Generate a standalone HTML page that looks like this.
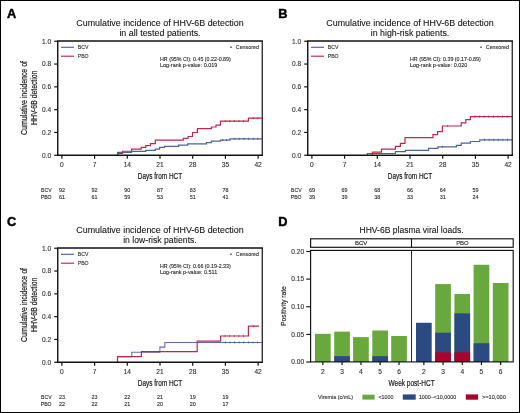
<!DOCTYPE html>
<html><head><meta charset="utf-8"><style>
html,body{margin:0;padding:0;background:#fff;}
svg{display:block;will-change:transform;}
text{font-family:"Liberation Sans", sans-serif;}
</style></head><body>
<svg width="520" height="413" viewBox="0 0 520 413">
<rect x="0" y="0" width="520" height="413" fill="#fff"/>
<text x="7.0" y="17.8" font-size="12.8" fill="#000" font-weight="bold" stroke="#000" stroke-width="0.45">A</text>
<text x="160" y="25.6" font-size="9.3" fill="#111" text-anchor="middle" textLength="167.4" lengthAdjust="spacingAndGlyphs" stroke="#111" stroke-width="0.08">Cumulative incidence of HHV-6B detection</text>
<text x="160" y="35.6" font-size="9.3" fill="#111" text-anchor="middle" textLength="81.2" lengthAdjust="spacingAndGlyphs" stroke="#111" stroke-width="0.08">in all tested patients.</text>
<line x1="54.2" y1="155.25" x2="57.75" y2="155.25" stroke="#111" stroke-width="1.2"/>
<text x="51.2" y="157.55" font-size="6.6" fill="#333" text-anchor="end" stroke="#333" stroke-width="0.12">0.0</text>
<line x1="54.2" y1="132.45" x2="57.75" y2="132.45" stroke="#111" stroke-width="1.2"/>
<text x="51.2" y="134.75" font-size="6.6" fill="#333" text-anchor="end" stroke="#333" stroke-width="0.12">0.2</text>
<line x1="54.2" y1="109.65" x2="57.75" y2="109.65" stroke="#111" stroke-width="1.2"/>
<text x="51.2" y="111.95" font-size="6.6" fill="#333" text-anchor="end" stroke="#333" stroke-width="0.12">0.4</text>
<line x1="54.2" y1="86.85" x2="57.75" y2="86.85" stroke="#111" stroke-width="1.2"/>
<text x="51.2" y="89.14999999999999" font-size="6.6" fill="#333" text-anchor="end" stroke="#333" stroke-width="0.12">0.6</text>
<line x1="54.2" y1="64.05" x2="57.75" y2="64.05" stroke="#111" stroke-width="1.2"/>
<text x="51.2" y="66.35" font-size="6.6" fill="#333" text-anchor="end" stroke="#333" stroke-width="0.12">0.8</text>
<line x1="54.2" y1="41.25" x2="57.75" y2="41.25" stroke="#111" stroke-width="1.2"/>
<text x="51.2" y="43.55" font-size="6.6" fill="#333" text-anchor="end" stroke="#333" stroke-width="0.12">1.0</text>
<line x1="61.9" y1="155.25" x2="61.9" y2="158.65" stroke="#111" stroke-width="1.2"/>
<text x="61.9" y="167.4" font-size="6.6" fill="#333" text-anchor="middle" stroke="#333" stroke-width="0.12">0</text>
<line x1="94.6" y1="155.25" x2="94.6" y2="158.65" stroke="#111" stroke-width="1.2"/>
<text x="94.6" y="167.4" font-size="6.6" fill="#333" text-anchor="middle" stroke="#333" stroke-width="0.12">7</text>
<line x1="127.30000000000001" y1="155.25" x2="127.30000000000001" y2="158.65" stroke="#111" stroke-width="1.2"/>
<text x="127.30000000000001" y="167.4" font-size="6.6" fill="#333" text-anchor="middle" stroke="#333" stroke-width="0.12">14</text>
<line x1="160.0" y1="155.25" x2="160.0" y2="158.65" stroke="#111" stroke-width="1.2"/>
<text x="160.0" y="167.4" font-size="6.6" fill="#333" text-anchor="middle" stroke="#333" stroke-width="0.12">21</text>
<line x1="192.70000000000002" y1="155.25" x2="192.70000000000002" y2="158.65" stroke="#111" stroke-width="1.2"/>
<text x="192.70000000000002" y="167.4" font-size="6.6" fill="#333" text-anchor="middle" stroke="#333" stroke-width="0.12">28</text>
<line x1="225.4" y1="155.25" x2="225.4" y2="158.65" stroke="#111" stroke-width="1.2"/>
<text x="225.4" y="167.4" font-size="6.6" fill="#333" text-anchor="middle" stroke="#333" stroke-width="0.12">35</text>
<line x1="258.1" y1="155.25" x2="258.1" y2="158.65" stroke="#111" stroke-width="1.2"/>
<text x="258.1" y="167.4" font-size="6.6" fill="#333" text-anchor="middle" stroke="#333" stroke-width="0.12">42</text>
<text x="160" y="179.2" font-size="8.3" fill="#1a1a1a" text-anchor="middle" textLength="44.4" lengthAdjust="spacingAndGlyphs" stroke="#1a1a1a" stroke-width="0.2">Days from HCT</text>
<g transform="translate(27.1,98) rotate(-90)"><text x="0" y="0" font-size="9.6" fill="#1a1a1a" stroke="#1a1a1a" stroke-width="0.2" text-anchor="middle" textLength="74" lengthAdjust="spacingAndGlyphs">Cumulative incidence of</text></g>
<g transform="translate(36.8,97.8) rotate(-90)"><text x="0" y="0" font-size="9" fill="#1a1a1a" stroke="#1a1a1a" stroke-width="0.2" text-anchor="middle" textLength="54.4" lengthAdjust="spacingAndGlyphs">HHV-6B detection</text></g>
<text x="51.6" y="192.1" font-size="5.5" fill="#2a2a2a" text-anchor="end" textLength="10.5" lengthAdjust="spacingAndGlyphs" stroke="#2a2a2a" stroke-width="0.12">BCV</text>
<text x="51.6" y="198.5" font-size="5.6" fill="#2a2a2a" text-anchor="end" textLength="10.8" lengthAdjust="spacingAndGlyphs" stroke="#2a2a2a" stroke-width="0.12">PBO</text>
<text x="61.9" y="192.2" font-size="6.2" fill="#2a2a2a" text-anchor="middle" textLength="6.0" lengthAdjust="spacingAndGlyphs" stroke="#2a2a2a" stroke-width="0.12">92</text>
<text x="61.9" y="198.6" font-size="6.2" fill="#2a2a2a" text-anchor="middle" textLength="6.0" lengthAdjust="spacingAndGlyphs" stroke="#2a2a2a" stroke-width="0.12">61</text>
<text x="94.6" y="192.2" font-size="6.2" fill="#2a2a2a" text-anchor="middle" textLength="6.0" lengthAdjust="spacingAndGlyphs" stroke="#2a2a2a" stroke-width="0.12">92</text>
<text x="94.6" y="198.6" font-size="6.2" fill="#2a2a2a" text-anchor="middle" textLength="6.0" lengthAdjust="spacingAndGlyphs" stroke="#2a2a2a" stroke-width="0.12">61</text>
<text x="127.30000000000001" y="192.2" font-size="6.2" fill="#2a2a2a" text-anchor="middle" textLength="6.0" lengthAdjust="spacingAndGlyphs" stroke="#2a2a2a" stroke-width="0.12">90</text>
<text x="127.30000000000001" y="198.6" font-size="6.2" fill="#2a2a2a" text-anchor="middle" textLength="6.0" lengthAdjust="spacingAndGlyphs" stroke="#2a2a2a" stroke-width="0.12">59</text>
<text x="160.0" y="192.2" font-size="6.2" fill="#2a2a2a" text-anchor="middle" textLength="6.0" lengthAdjust="spacingAndGlyphs" stroke="#2a2a2a" stroke-width="0.12">87</text>
<text x="160.0" y="198.6" font-size="6.2" fill="#2a2a2a" text-anchor="middle" textLength="6.0" lengthAdjust="spacingAndGlyphs" stroke="#2a2a2a" stroke-width="0.12">53</text>
<text x="192.70000000000002" y="192.2" font-size="6.2" fill="#2a2a2a" text-anchor="middle" textLength="6.0" lengthAdjust="spacingAndGlyphs" stroke="#2a2a2a" stroke-width="0.12">83</text>
<text x="192.70000000000002" y="198.6" font-size="6.2" fill="#2a2a2a" text-anchor="middle" textLength="6.0" lengthAdjust="spacingAndGlyphs" stroke="#2a2a2a" stroke-width="0.12">51</text>
<text x="225.4" y="192.2" font-size="6.2" fill="#2a2a2a" text-anchor="middle" textLength="6.0" lengthAdjust="spacingAndGlyphs" stroke="#2a2a2a" stroke-width="0.12">78</text>
<text x="225.4" y="198.6" font-size="6.2" fill="#2a2a2a" text-anchor="middle" textLength="6.0" lengthAdjust="spacingAndGlyphs" stroke="#2a2a2a" stroke-width="0.12">41</text>
<line x1="61" y1="47.3" x2="74" y2="47.3" stroke="#4864a0" stroke-width="1.15"/>
<line x1="61" y1="56.2" x2="74" y2="56.2" stroke="#bc2848" stroke-width="1.15"/>
<text x="77.7" y="49.2" font-size="5.2" fill="#333" stroke="#333" stroke-width="0.12">BCV</text>
<text x="77.7" y="58.1" font-size="5.2" fill="#333" stroke="#333" stroke-width="0.12">PBO</text>
<circle cx="231" cy="47.2" r="0.9" fill="#4864a0"/>
<text x="235.8" y="49.1" font-size="5.4" fill="#333" textLength="23.1" lengthAdjust="spacingAndGlyphs" stroke="#333" stroke-width="0.12">Censored</text>
<text x="160" y="60.5" font-size="5.6" fill="#2a2a2a" textLength="70.8" lengthAdjust="spacingAndGlyphs" stroke="#2a2a2a" stroke-width="0.12">HR (95% CI): 0.45 (0.22-0.89)</text>
<text x="160" y="67.4" font-size="5.6" fill="#2a2a2a" textLength="57.2" lengthAdjust="spacingAndGlyphs" stroke="#2a2a2a" stroke-width="0.12">Log-rank p-value: 0.019</text>
<path d="M117.6,155.25 V152.4 H131.6 V151.3 H145.8 V150.3 H155.3 V149.1 H159.6 V147.4 H164.5 V146.4 H178.6 V145.1 H187.7 V143.9 H206.4 V142.6 H211.4 V141.2 H220.5 V140.1 H230 V138.8 H262" fill="none" stroke="#4864a0" stroke-width="1.2"/>
<path d="M117.6,155.25 V153.3 H122.5 V151.25 H131.6 V149.2 H141.2 V147.4 H145.8 V145.6 H150.4 V143.7 H155.3 V140.2 H183.3 V138.3 H188.1 V136.5 H192.5 V132.5 H197.4 V128.7 H211.4 V127 H216 V125.2 H220.5 V121.1 H248.4 V118.1 H262" fill="none" stroke="#bc2848" stroke-width="1.2"/>
<rect x="222.3" y="139.0" width="1" height="2.2" fill="#2a4480" opacity="0.6"/>
<rect x="226.0" y="139.0" width="1" height="2.2" fill="#2a4480" opacity="0.6"/>
<rect x="234.3" y="137.70000000000002" width="1" height="2.2" fill="#2a4480" opacity="0.6"/>
<rect x="238.9" y="137.70000000000002" width="1" height="2.2" fill="#2a4480" opacity="0.6"/>
<rect x="243.5" y="137.70000000000002" width="1" height="2.2" fill="#2a4480" opacity="0.6"/>
<rect x="248.1" y="137.70000000000002" width="1" height="2.2" fill="#2a4480" opacity="0.6"/>
<rect x="252.7" y="137.70000000000002" width="1" height="2.2" fill="#2a4480" opacity="0.6"/>
<rect x="257.3" y="137.70000000000002" width="1" height="2.2" fill="#2a4480" opacity="0.6"/>
<rect x="224.7" y="120.0" width="1" height="2.2" fill="#a01838" opacity="0.6"/>
<rect x="229.3" y="120.0" width="1" height="2.2" fill="#a01838" opacity="0.6"/>
<rect x="233.9" y="120.0" width="1" height="2.2" fill="#a01838" opacity="0.6"/>
<rect x="238.5" y="120.0" width="1" height="2.2" fill="#a01838" opacity="0.6"/>
<rect x="243.1" y="120.0" width="1" height="2.2" fill="#a01838" opacity="0.6"/>
<rect x="252.7" y="117.0" width="1" height="2.2" fill="#a01838" opacity="0.6"/>
<rect x="257.1" y="117.0" width="1" height="2.2" fill="#a01838" opacity="0.6"/>
<line x1="57.05" y1="41.0" x2="262.95" y2="41.0" stroke="#111" stroke-width="1.3"/>
<line x1="57.05" y1="155.25" x2="262.95" y2="155.25" stroke="#111" stroke-width="1.3"/>
<line x1="57.75" y1="41.0" x2="57.75" y2="155.25" stroke="#111" stroke-width="1.4"/>
<line x1="262.25" y1="41.0" x2="262.25" y2="155.25" stroke="#111" stroke-width="1.2"/>
<text x="278.2" y="17.8" font-size="12.8" fill="#000" font-weight="bold" stroke="#000" stroke-width="0.45">B</text>
<text x="410" y="25.6" font-size="9.3" fill="#111" text-anchor="middle" textLength="167.4" lengthAdjust="spacingAndGlyphs" stroke="#111" stroke-width="0.08">Cumulative incidence of HHV-6B detection</text>
<text x="410" y="35.6" font-size="9.3" fill="#111" text-anchor="middle" textLength="78.6" lengthAdjust="spacingAndGlyphs" stroke="#111" stroke-width="0.08">in high-risk patients.</text>
<line x1="304.2" y1="155.25" x2="307.75" y2="155.25" stroke="#111" stroke-width="1.2"/>
<text x="301.2" y="157.55" font-size="6.6" fill="#333" text-anchor="end" stroke="#333" stroke-width="0.12">0.0</text>
<line x1="304.2" y1="132.45" x2="307.75" y2="132.45" stroke="#111" stroke-width="1.2"/>
<text x="301.2" y="134.75" font-size="6.6" fill="#333" text-anchor="end" stroke="#333" stroke-width="0.12">0.2</text>
<line x1="304.2" y1="109.65" x2="307.75" y2="109.65" stroke="#111" stroke-width="1.2"/>
<text x="301.2" y="111.95" font-size="6.6" fill="#333" text-anchor="end" stroke="#333" stroke-width="0.12">0.4</text>
<line x1="304.2" y1="86.85" x2="307.75" y2="86.85" stroke="#111" stroke-width="1.2"/>
<text x="301.2" y="89.14999999999999" font-size="6.6" fill="#333" text-anchor="end" stroke="#333" stroke-width="0.12">0.6</text>
<line x1="304.2" y1="64.05" x2="307.75" y2="64.05" stroke="#111" stroke-width="1.2"/>
<text x="301.2" y="66.35" font-size="6.6" fill="#333" text-anchor="end" stroke="#333" stroke-width="0.12">0.8</text>
<line x1="304.2" y1="41.25" x2="307.75" y2="41.25" stroke="#111" stroke-width="1.2"/>
<text x="301.2" y="43.55" font-size="6.6" fill="#333" text-anchor="end" stroke="#333" stroke-width="0.12">1.0</text>
<line x1="311.9" y1="155.25" x2="311.9" y2="158.65" stroke="#111" stroke-width="1.2"/>
<text x="311.9" y="167.4" font-size="6.6" fill="#333" text-anchor="middle" stroke="#333" stroke-width="0.12">0</text>
<line x1="344.59999999999997" y1="155.25" x2="344.59999999999997" y2="158.65" stroke="#111" stroke-width="1.2"/>
<text x="344.59999999999997" y="167.4" font-size="6.6" fill="#333" text-anchor="middle" stroke="#333" stroke-width="0.12">7</text>
<line x1="377.29999999999995" y1="155.25" x2="377.29999999999995" y2="158.65" stroke="#111" stroke-width="1.2"/>
<text x="377.29999999999995" y="167.4" font-size="6.6" fill="#333" text-anchor="middle" stroke="#333" stroke-width="0.12">14</text>
<line x1="410.0" y1="155.25" x2="410.0" y2="158.65" stroke="#111" stroke-width="1.2"/>
<text x="410.0" y="167.4" font-size="6.6" fill="#333" text-anchor="middle" stroke="#333" stroke-width="0.12">21</text>
<line x1="442.7" y1="155.25" x2="442.7" y2="158.65" stroke="#111" stroke-width="1.2"/>
<text x="442.7" y="167.4" font-size="6.6" fill="#333" text-anchor="middle" stroke="#333" stroke-width="0.12">28</text>
<line x1="475.4" y1="155.25" x2="475.4" y2="158.65" stroke="#111" stroke-width="1.2"/>
<text x="475.4" y="167.4" font-size="6.6" fill="#333" text-anchor="middle" stroke="#333" stroke-width="0.12">35</text>
<line x1="508.1" y1="155.25" x2="508.1" y2="158.65" stroke="#111" stroke-width="1.2"/>
<text x="508.1" y="167.4" font-size="6.6" fill="#333" text-anchor="middle" stroke="#333" stroke-width="0.12">42</text>
<text x="410" y="179.2" font-size="8.3" fill="#1a1a1a" text-anchor="middle" textLength="44.4" lengthAdjust="spacingAndGlyphs" stroke="#1a1a1a" stroke-width="0.2">Days from HCT</text>
<text x="301.6" y="192.1" font-size="5.5" fill="#2a2a2a" text-anchor="end" textLength="10.5" lengthAdjust="spacingAndGlyphs" stroke="#2a2a2a" stroke-width="0.12">BCV</text>
<text x="301.6" y="198.5" font-size="5.6" fill="#2a2a2a" text-anchor="end" textLength="10.8" lengthAdjust="spacingAndGlyphs" stroke="#2a2a2a" stroke-width="0.12">PBO</text>
<text x="311.9" y="192.2" font-size="6.2" fill="#2a2a2a" text-anchor="middle" textLength="6.0" lengthAdjust="spacingAndGlyphs" stroke="#2a2a2a" stroke-width="0.12">69</text>
<text x="311.9" y="198.6" font-size="6.2" fill="#2a2a2a" text-anchor="middle" textLength="6.0" lengthAdjust="spacingAndGlyphs" stroke="#2a2a2a" stroke-width="0.12">39</text>
<text x="344.59999999999997" y="192.2" font-size="6.2" fill="#2a2a2a" text-anchor="middle" textLength="6.0" lengthAdjust="spacingAndGlyphs" stroke="#2a2a2a" stroke-width="0.12">69</text>
<text x="344.59999999999997" y="198.6" font-size="6.2" fill="#2a2a2a" text-anchor="middle" textLength="6.0" lengthAdjust="spacingAndGlyphs" stroke="#2a2a2a" stroke-width="0.12">39</text>
<text x="377.29999999999995" y="192.2" font-size="6.2" fill="#2a2a2a" text-anchor="middle" textLength="6.0" lengthAdjust="spacingAndGlyphs" stroke="#2a2a2a" stroke-width="0.12">68</text>
<text x="377.29999999999995" y="198.6" font-size="6.2" fill="#2a2a2a" text-anchor="middle" textLength="6.0" lengthAdjust="spacingAndGlyphs" stroke="#2a2a2a" stroke-width="0.12">38</text>
<text x="410.0" y="192.2" font-size="6.2" fill="#2a2a2a" text-anchor="middle" textLength="6.0" lengthAdjust="spacingAndGlyphs" stroke="#2a2a2a" stroke-width="0.12">66</text>
<text x="410.0" y="198.6" font-size="6.2" fill="#2a2a2a" text-anchor="middle" textLength="6.0" lengthAdjust="spacingAndGlyphs" stroke="#2a2a2a" stroke-width="0.12">33</text>
<text x="442.7" y="192.2" font-size="6.2" fill="#2a2a2a" text-anchor="middle" textLength="6.0" lengthAdjust="spacingAndGlyphs" stroke="#2a2a2a" stroke-width="0.12">64</text>
<text x="442.7" y="198.6" font-size="6.2" fill="#2a2a2a" text-anchor="middle" textLength="6.0" lengthAdjust="spacingAndGlyphs" stroke="#2a2a2a" stroke-width="0.12">31</text>
<text x="475.4" y="192.2" font-size="6.2" fill="#2a2a2a" text-anchor="middle" textLength="6.0" lengthAdjust="spacingAndGlyphs" stroke="#2a2a2a" stroke-width="0.12">59</text>
<text x="475.4" y="198.6" font-size="6.2" fill="#2a2a2a" text-anchor="middle" textLength="6.0" lengthAdjust="spacingAndGlyphs" stroke="#2a2a2a" stroke-width="0.12">24</text>
<line x1="311" y1="47.3" x2="324" y2="47.3" stroke="#4864a0" stroke-width="1.15"/>
<line x1="311" y1="56.2" x2="324" y2="56.2" stroke="#bc2848" stroke-width="1.15"/>
<text x="327.7" y="49.2" font-size="5.2" fill="#333" stroke="#333" stroke-width="0.12">BCV</text>
<text x="327.7" y="58.1" font-size="5.2" fill="#333" stroke="#333" stroke-width="0.12">PBO</text>
<circle cx="481" cy="47.2" r="0.9" fill="#4864a0"/>
<text x="485.8" y="49.1" font-size="5.4" fill="#333" textLength="23.1" lengthAdjust="spacingAndGlyphs" stroke="#333" stroke-width="0.12">Censored</text>
<text x="410" y="60.5" font-size="5.6" fill="#2a2a2a" textLength="70.8" lengthAdjust="spacingAndGlyphs" stroke="#2a2a2a" stroke-width="0.12">HR (95% CI): 0.39 (0.17-0.89)</text>
<text x="410" y="67.4" font-size="5.6" fill="#2a2a2a" textLength="57.2" lengthAdjust="spacingAndGlyphs" stroke="#2a2a2a" stroke-width="0.12">Log-rank p-value: 0.020</text>
<path d="M367.3,155.25 V153.5 H395.4 V151.6 H405.4 V150.3 H428.5 V148.4 H437.9 V146.8 H456.4 V145.3 H461.2 V143.1 H470.4 V141.5 H479.8 V139.8 H512" fill="none" stroke="#4864a0" stroke-width="1.2"/>
<path d="M372.4,155.25 V152.2 H381.5 V149.1 H395.4 V146.4 H400.4 V143.3 H405 V137.6 H433 V134.6 H437.6 V131.6 H442.4 V126 H461.2 V122.9 H465.8 V119.7 H470.4 V116.6 H512" fill="none" stroke="#bc2848" stroke-width="1.2"/>
<rect x="441.9" y="145.70000000000002" width="1" height="2.2" fill="#2a4480" opacity="0.6"/>
<rect x="484.0" y="138.70000000000002" width="1" height="2.2" fill="#2a4480" opacity="0.6"/>
<rect x="488.6" y="138.70000000000002" width="1" height="2.2" fill="#2a4480" opacity="0.6"/>
<rect x="493.2" y="138.70000000000002" width="1" height="2.2" fill="#2a4480" opacity="0.6"/>
<rect x="497.8" y="138.70000000000002" width="1" height="2.2" fill="#2a4480" opacity="0.6"/>
<rect x="502.4" y="138.70000000000002" width="1" height="2.2" fill="#2a4480" opacity="0.6"/>
<rect x="507.0" y="138.70000000000002" width="1" height="2.2" fill="#2a4480" opacity="0.6"/>
<rect x="447.1" y="124.9" width="1" height="2.2" fill="#a01838" opacity="0.6"/>
<rect x="474.5" y="115.5" width="1" height="2.2" fill="#a01838" opacity="0.6"/>
<rect x="479.1" y="115.5" width="1" height="2.2" fill="#a01838" opacity="0.6"/>
<rect x="483.7" y="115.5" width="1" height="2.2" fill="#a01838" opacity="0.6"/>
<rect x="488.3" y="115.5" width="1" height="2.2" fill="#a01838" opacity="0.6"/>
<rect x="492.9" y="115.5" width="1" height="2.2" fill="#a01838" opacity="0.6"/>
<rect x="497.5" y="115.5" width="1" height="2.2" fill="#a01838" opacity="0.6"/>
<rect x="502.1" y="115.5" width="1" height="2.2" fill="#a01838" opacity="0.6"/>
<rect x="506.7" y="115.5" width="1" height="2.2" fill="#a01838" opacity="0.6"/>
<line x1="307.05" y1="41.0" x2="512.95" y2="41.0" stroke="#111" stroke-width="1.3"/>
<line x1="307.05" y1="155.25" x2="512.95" y2="155.25" stroke="#111" stroke-width="1.3"/>
<line x1="307.75" y1="41.0" x2="307.75" y2="155.25" stroke="#111" stroke-width="1.4"/>
<line x1="512.25" y1="41.0" x2="512.25" y2="155.25" stroke="#111" stroke-width="1.2"/>
<text x="7.0" y="225.6" font-size="12.8" fill="#000" font-weight="bold" stroke="#000" stroke-width="0.45">C</text>
<text x="160" y="232.6" font-size="9.3" fill="#111" text-anchor="middle" textLength="167.4" lengthAdjust="spacingAndGlyphs" stroke="#111" stroke-width="0.08">Cumulative incidence of HHV-6B detection</text>
<text x="160" y="242.6" font-size="9.3" fill="#111" text-anchor="middle" textLength="73.6" lengthAdjust="spacingAndGlyphs" stroke="#111" stroke-width="0.08">in low-risk patients.</text>
<line x1="54.2" y1="362.25" x2="57.75" y2="362.25" stroke="#111" stroke-width="1.2"/>
<text x="51.2" y="364.55" font-size="6.6" fill="#333" text-anchor="end" stroke="#333" stroke-width="0.12">0.0</text>
<line x1="54.2" y1="339.45" x2="57.75" y2="339.45" stroke="#111" stroke-width="1.2"/>
<text x="51.2" y="341.75" font-size="6.6" fill="#333" text-anchor="end" stroke="#333" stroke-width="0.12">0.2</text>
<line x1="54.2" y1="316.65" x2="57.75" y2="316.65" stroke="#111" stroke-width="1.2"/>
<text x="51.2" y="318.95" font-size="6.6" fill="#333" text-anchor="end" stroke="#333" stroke-width="0.12">0.4</text>
<line x1="54.2" y1="293.85" x2="57.75" y2="293.85" stroke="#111" stroke-width="1.2"/>
<text x="51.2" y="296.15000000000003" font-size="6.6" fill="#333" text-anchor="end" stroke="#333" stroke-width="0.12">0.6</text>
<line x1="54.2" y1="271.05" x2="57.75" y2="271.05" stroke="#111" stroke-width="1.2"/>
<text x="51.2" y="273.35" font-size="6.6" fill="#333" text-anchor="end" stroke="#333" stroke-width="0.12">0.8</text>
<line x1="54.2" y1="248.25" x2="57.75" y2="248.25" stroke="#111" stroke-width="1.2"/>
<text x="51.2" y="250.55" font-size="6.6" fill="#333" text-anchor="end" stroke="#333" stroke-width="0.12">1.0</text>
<line x1="61.9" y1="362.25" x2="61.9" y2="365.65" stroke="#111" stroke-width="1.2"/>
<text x="61.9" y="374.4" font-size="6.6" fill="#333" text-anchor="middle" stroke="#333" stroke-width="0.12">0</text>
<line x1="94.6" y1="362.25" x2="94.6" y2="365.65" stroke="#111" stroke-width="1.2"/>
<text x="94.6" y="374.4" font-size="6.6" fill="#333" text-anchor="middle" stroke="#333" stroke-width="0.12">7</text>
<line x1="127.30000000000001" y1="362.25" x2="127.30000000000001" y2="365.65" stroke="#111" stroke-width="1.2"/>
<text x="127.30000000000001" y="374.4" font-size="6.6" fill="#333" text-anchor="middle" stroke="#333" stroke-width="0.12">14</text>
<line x1="160.0" y1="362.25" x2="160.0" y2="365.65" stroke="#111" stroke-width="1.2"/>
<text x="160.0" y="374.4" font-size="6.6" fill="#333" text-anchor="middle" stroke="#333" stroke-width="0.12">21</text>
<line x1="192.70000000000002" y1="362.25" x2="192.70000000000002" y2="365.65" stroke="#111" stroke-width="1.2"/>
<text x="192.70000000000002" y="374.4" font-size="6.6" fill="#333" text-anchor="middle" stroke="#333" stroke-width="0.12">28</text>
<line x1="225.4" y1="362.25" x2="225.4" y2="365.65" stroke="#111" stroke-width="1.2"/>
<text x="225.4" y="374.4" font-size="6.6" fill="#333" text-anchor="middle" stroke="#333" stroke-width="0.12">35</text>
<line x1="258.1" y1="362.25" x2="258.1" y2="365.65" stroke="#111" stroke-width="1.2"/>
<text x="258.1" y="374.4" font-size="6.6" fill="#333" text-anchor="middle" stroke="#333" stroke-width="0.12">42</text>
<text x="160" y="386.2" font-size="8.3" fill="#1a1a1a" text-anchor="middle" textLength="44.4" lengthAdjust="spacingAndGlyphs" stroke="#1a1a1a" stroke-width="0.2">Days from HCT</text>
<g transform="translate(27.1,305) rotate(-90)"><text x="0" y="0" font-size="9.6" fill="#1a1a1a" stroke="#1a1a1a" stroke-width="0.2" text-anchor="middle" textLength="74" lengthAdjust="spacingAndGlyphs">Cumulative incidence of</text></g>
<g transform="translate(36.8,304.8) rotate(-90)"><text x="0" y="0" font-size="9" fill="#1a1a1a" stroke="#1a1a1a" stroke-width="0.2" text-anchor="middle" textLength="54.4" lengthAdjust="spacingAndGlyphs">HHV-6B detection</text></g>
<text x="51.6" y="399.1" font-size="5.5" fill="#2a2a2a" text-anchor="end" textLength="10.5" lengthAdjust="spacingAndGlyphs" stroke="#2a2a2a" stroke-width="0.12">BCV</text>
<text x="51.6" y="405.5" font-size="5.6" fill="#2a2a2a" text-anchor="end" textLength="10.8" lengthAdjust="spacingAndGlyphs" stroke="#2a2a2a" stroke-width="0.12">PBO</text>
<text x="61.9" y="399.2" font-size="6.2" fill="#2a2a2a" text-anchor="middle" textLength="6.0" lengthAdjust="spacingAndGlyphs" stroke="#2a2a2a" stroke-width="0.12">23</text>
<text x="61.9" y="405.6" font-size="6.2" fill="#2a2a2a" text-anchor="middle" textLength="6.0" lengthAdjust="spacingAndGlyphs" stroke="#2a2a2a" stroke-width="0.12">22</text>
<text x="94.6" y="399.2" font-size="6.2" fill="#2a2a2a" text-anchor="middle" textLength="6.0" lengthAdjust="spacingAndGlyphs" stroke="#2a2a2a" stroke-width="0.12">23</text>
<text x="94.6" y="405.6" font-size="6.2" fill="#2a2a2a" text-anchor="middle" textLength="6.0" lengthAdjust="spacingAndGlyphs" stroke="#2a2a2a" stroke-width="0.12">22</text>
<text x="127.30000000000001" y="399.2" font-size="6.2" fill="#2a2a2a" text-anchor="middle" textLength="6.0" lengthAdjust="spacingAndGlyphs" stroke="#2a2a2a" stroke-width="0.12">22</text>
<text x="127.30000000000001" y="405.6" font-size="6.2" fill="#2a2a2a" text-anchor="middle" textLength="6.0" lengthAdjust="spacingAndGlyphs" stroke="#2a2a2a" stroke-width="0.12">21</text>
<text x="160.0" y="399.2" font-size="6.2" fill="#2a2a2a" text-anchor="middle" textLength="6.0" lengthAdjust="spacingAndGlyphs" stroke="#2a2a2a" stroke-width="0.12">21</text>
<text x="160.0" y="405.6" font-size="6.2" fill="#2a2a2a" text-anchor="middle" textLength="6.0" lengthAdjust="spacingAndGlyphs" stroke="#2a2a2a" stroke-width="0.12">20</text>
<text x="192.70000000000002" y="399.2" font-size="6.2" fill="#2a2a2a" text-anchor="middle" textLength="6.0" lengthAdjust="spacingAndGlyphs" stroke="#2a2a2a" stroke-width="0.12">19</text>
<text x="192.70000000000002" y="405.6" font-size="6.2" fill="#2a2a2a" text-anchor="middle" textLength="6.0" lengthAdjust="spacingAndGlyphs" stroke="#2a2a2a" stroke-width="0.12">20</text>
<text x="225.4" y="399.2" font-size="6.2" fill="#2a2a2a" text-anchor="middle" textLength="6.0" lengthAdjust="spacingAndGlyphs" stroke="#2a2a2a" stroke-width="0.12">19</text>
<text x="225.4" y="405.6" font-size="6.2" fill="#2a2a2a" text-anchor="middle" textLength="6.0" lengthAdjust="spacingAndGlyphs" stroke="#2a2a2a" stroke-width="0.12">17</text>
<line x1="61" y1="254.3" x2="74" y2="254.3" stroke="#4864a0" stroke-width="1.15"/>
<line x1="61" y1="263.2" x2="74" y2="263.2" stroke="#bc2848" stroke-width="1.15"/>
<text x="77.7" y="256.2" font-size="5.2" fill="#333" stroke="#333" stroke-width="0.12">BCV</text>
<text x="77.7" y="265.1" font-size="5.2" fill="#333" stroke="#333" stroke-width="0.12">PBO</text>
<circle cx="231" cy="254.2" r="0.9" fill="#4864a0"/>
<text x="235.8" y="256.1" font-size="5.4" fill="#333" textLength="23.1" lengthAdjust="spacingAndGlyphs" stroke="#333" stroke-width="0.12">Censored</text>
<text x="160" y="267.5" font-size="5.6" fill="#2a2a2a" textLength="70.8" lengthAdjust="spacingAndGlyphs" stroke="#2a2a2a" stroke-width="0.12">HR (95% CI): 0.66 (0.19-2.33)</text>
<text x="160" y="274.4" font-size="5.6" fill="#2a2a2a" textLength="57.2" lengthAdjust="spacingAndGlyphs" stroke="#2a2a2a" stroke-width="0.12">Log-rank p-value: 0.511</text>
<path d="M117.5,362.25 V356.6 H131.8 V352.2 H159.9 V347.1 H164.8 V342.4 H262" fill="none" stroke="#5a6fae" stroke-width="1.05"/>
<path d="M117.5,362.25 V356.6 H141.4 V351.7 H197.2 V341.2 H220.6 V336 H248.4 V326.2 H259" fill="none" stroke="#bc2848" stroke-width="1.2"/>
<rect x="224.9" y="341.29999999999995" width="1" height="2.2" fill="#2a4480" opacity="0.6"/>
<rect x="229.5" y="341.29999999999995" width="1" height="2.2" fill="#2a4480" opacity="0.6"/>
<rect x="234.1" y="341.29999999999995" width="1" height="2.2" fill="#2a4480" opacity="0.6"/>
<rect x="238.7" y="341.29999999999995" width="1" height="2.2" fill="#2a4480" opacity="0.6"/>
<rect x="243.3" y="341.29999999999995" width="1" height="2.2" fill="#2a4480" opacity="0.6"/>
<rect x="247.9" y="341.29999999999995" width="1" height="2.2" fill="#2a4480" opacity="0.6"/>
<rect x="252.5" y="341.29999999999995" width="1" height="2.2" fill="#2a4480" opacity="0.6"/>
<rect x="257.1" y="341.29999999999995" width="1" height="2.2" fill="#2a4480" opacity="0.6"/>
<rect x="224.5" y="334.9" width="1" height="2.2" fill="#a01838" opacity="0.6"/>
<rect x="229.1" y="334.9" width="1" height="2.2" fill="#a01838" opacity="0.6"/>
<rect x="233.7" y="334.9" width="1" height="2.2" fill="#a01838" opacity="0.6"/>
<rect x="238.3" y="334.9" width="1" height="2.2" fill="#a01838" opacity="0.6"/>
<rect x="242.9" y="334.9" width="1" height="2.2" fill="#a01838" opacity="0.6"/>
<rect x="253.0" y="325.09999999999997" width="1" height="2.2" fill="#a01838" opacity="0.6"/>
<line x1="57.05" y1="248.0" x2="262.95" y2="248.0" stroke="#111" stroke-width="1.3"/>
<line x1="57.05" y1="362.25" x2="262.95" y2="362.25" stroke="#111" stroke-width="1.3"/>
<line x1="57.75" y1="248.0" x2="57.75" y2="362.25" stroke="#111" stroke-width="1.4"/>
<line x1="262.25" y1="248.0" x2="262.25" y2="362.25" stroke="#111" stroke-width="1.2"/>
<text x="278.2" y="225.6" font-size="12.8" fill="#000" font-weight="bold" stroke="#000" stroke-width="0.45">D</text>
<text x="411.55" y="232.9" font-size="9.1" fill="#111" text-anchor="middle" textLength="104.1" lengthAdjust="spacingAndGlyphs" stroke="#111" stroke-width="0.08">HHV-6B plasma viral loads.</text>
<rect x="310.6" y="238.8" width="202.6" height="8.5" fill="none" stroke="#111" stroke-width="1.15"/>
<line x1="411.5" y1="238.8" x2="411.5" y2="247.3" stroke="#111" stroke-width="1.1"/>
<text x="361.2" y="245.1" font-size="6" fill="#222" text-anchor="middle" textLength="12.4" lengthAdjust="spacingAndGlyphs" stroke="#222" stroke-width="0.12">BCV</text>
<text x="462.4" y="245.1" font-size="6" fill="#222" text-anchor="middle" textLength="12.4" lengthAdjust="spacingAndGlyphs" stroke="#222" stroke-width="0.12">PBO</text>
<line x1="306.3" y1="362.0" x2="310.6" y2="362.0" stroke="#111" stroke-width="1.15"/>
<text x="304.2" y="364.3" font-size="6.6" fill="#333" text-anchor="end" stroke="#333" stroke-width="0.12">0.00</text>
<line x1="306.3" y1="334.375" x2="310.6" y2="334.375" stroke="#111" stroke-width="1.15"/>
<text x="304.2" y="336.675" font-size="6.6" fill="#333" text-anchor="end" stroke="#333" stroke-width="0.12">0.05</text>
<line x1="306.3" y1="306.75" x2="310.6" y2="306.75" stroke="#111" stroke-width="1.15"/>
<text x="304.2" y="309.05" font-size="6.6" fill="#333" text-anchor="end" stroke="#333" stroke-width="0.12">0.10</text>
<line x1="306.3" y1="279.125" x2="310.6" y2="279.125" stroke="#111" stroke-width="1.15"/>
<text x="304.2" y="281.425" font-size="6.6" fill="#333" text-anchor="end" stroke="#333" stroke-width="0.12">0.15</text>
<line x1="306.3" y1="251.5" x2="310.6" y2="251.5" stroke="#111" stroke-width="1.15"/>
<text x="304.2" y="253.8" font-size="6.6" fill="#333" text-anchor="end" stroke="#333" stroke-width="0.12">0.20</text>
<rect x="315" y="333.8225" width="15.7" height="28.1775" fill="#68a83c"/>
<rect x="334.2" y="331.6125" width="15.7" height="30.3875" fill="#68a83c"/>
<rect x="334.2" y="356.19875" width="15.7" height="5.8012500000000005" fill="#2b4a82"/>
<rect x="353.1" y="337.1375" width="15.7" height="24.8625" fill="#68a83c"/>
<rect x="372.3" y="330.5075" width="15.7" height="31.4925" fill="#68a83c"/>
<rect x="372.3" y="356.19875" width="15.7" height="5.8012500000000005" fill="#2b4a82"/>
<rect x="391.2" y="336.0325" width="15.7" height="25.9675" fill="#68a83c"/>
<rect x="416" y="322.7725" width="15.7" height="39.2275" fill="#2b4a82"/>
<rect x="435.2" y="284.0975" width="15.7" height="77.90249999999999" fill="#68a83c"/>
<rect x="435.2" y="332.7175" width="15.7" height="29.2825" fill="#2b4a82"/>
<rect x="435.2" y="352.33125" width="15.7" height="9.668750000000001" fill="#a8052e"/>
<rect x="454.4" y="294.0425" width="15.7" height="67.9575" fill="#68a83c"/>
<rect x="454.4" y="313.38" width="15.7" height="48.62" fill="#2b4a82"/>
<rect x="454.4" y="352.33125" width="15.7" height="9.668750000000001" fill="#a8052e"/>
<rect x="473.6" y="264.76" width="15.7" height="97.24" fill="#68a83c"/>
<rect x="473.6" y="343.215" width="15.7" height="18.785" fill="#2b4a82"/>
<rect x="492.8" y="282.9925" width="15.7" height="79.0075" fill="#68a83c"/>
<line x1="322.85" y1="362" x2="322.85" y2="365" stroke="#111" stroke-width="1.2"/>
<text x="322.85" y="374" font-size="6.6" fill="#333" text-anchor="middle" stroke="#333" stroke-width="0.12">2</text>
<line x1="342.05" y1="362" x2="342.05" y2="365" stroke="#111" stroke-width="1.2"/>
<text x="342.05" y="374" font-size="6.6" fill="#333" text-anchor="middle" stroke="#333" stroke-width="0.12">3</text>
<line x1="360.95000000000005" y1="362" x2="360.95000000000005" y2="365" stroke="#111" stroke-width="1.2"/>
<text x="360.95000000000005" y="374" font-size="6.6" fill="#333" text-anchor="middle" stroke="#333" stroke-width="0.12">4</text>
<line x1="380.15000000000003" y1="362" x2="380.15000000000003" y2="365" stroke="#111" stroke-width="1.2"/>
<text x="380.15000000000003" y="374" font-size="6.6" fill="#333" text-anchor="middle" stroke="#333" stroke-width="0.12">5</text>
<line x1="399.05" y1="362" x2="399.05" y2="365" stroke="#111" stroke-width="1.2"/>
<text x="399.05" y="374" font-size="6.6" fill="#333" text-anchor="middle" stroke="#333" stroke-width="0.12">6</text>
<line x1="423.85" y1="362" x2="423.85" y2="365" stroke="#111" stroke-width="1.2"/>
<text x="423.85" y="374" font-size="6.6" fill="#333" text-anchor="middle" stroke="#333" stroke-width="0.12">2</text>
<line x1="443.05" y1="362" x2="443.05" y2="365" stroke="#111" stroke-width="1.2"/>
<text x="443.05" y="374" font-size="6.6" fill="#333" text-anchor="middle" stroke="#333" stroke-width="0.12">3</text>
<line x1="462.25" y1="362" x2="462.25" y2="365" stroke="#111" stroke-width="1.2"/>
<text x="462.25" y="374" font-size="6.6" fill="#333" text-anchor="middle" stroke="#333" stroke-width="0.12">4</text>
<line x1="481.45000000000005" y1="362" x2="481.45000000000005" y2="365" stroke="#111" stroke-width="1.2"/>
<text x="481.45000000000005" y="374" font-size="6.6" fill="#333" text-anchor="middle" stroke="#333" stroke-width="0.12">5</text>
<line x1="500.65000000000003" y1="362" x2="500.65000000000003" y2="365" stroke="#111" stroke-width="1.2"/>
<text x="500.65000000000003" y="374" font-size="6.6" fill="#333" text-anchor="middle" stroke="#333" stroke-width="0.12">6</text>
<line x1="411.5" y1="250.5" x2="411.5" y2="362" stroke="#111" stroke-width="0.9"/>
<rect x="310.6" y="250.4" width="202.6" height="111.5" fill="none" stroke="#111" stroke-width="1.15"/>
<text x="411.6" y="386.1" font-size="8.3" fill="#1a1a1a" text-anchor="middle" textLength="46.2" lengthAdjust="spacingAndGlyphs" stroke="#1a1a1a" stroke-width="0.2">Week post-HCT</text>
<g transform="translate(286.2,306.1) rotate(-90)"><text x="0" y="0" font-size="7.6" fill="#1a1a1a" stroke="#1a1a1a" stroke-width="0.15" text-anchor="middle" textLength="39.8" lengthAdjust="spacingAndGlyphs">Positivity rate</text></g>
<text x="318" y="398.8" font-size="5.2" fill="#333" textLength="35.1" lengthAdjust="spacingAndGlyphs" stroke="#333" stroke-width="0.12">Viremia (c/mL)</text>
<rect x="362.4" y="394.7" width="12.2" height="4.9" fill="#68a83c"/>
<text x="378.5" y="398.8" font-size="5.4" fill="#333" textLength="15" lengthAdjust="spacingAndGlyphs" stroke="#333" stroke-width="0.12">&lt;1000</text>
<rect x="402.8" y="394.4" width="12.9" height="5.3" fill="#2b4a82"/>
<text x="418.9" y="398.8" font-size="5.4" fill="#333" textLength="37.2" lengthAdjust="spacingAndGlyphs" stroke="#333" stroke-width="0.12">1000–&lt;10,0000</text>
<rect x="465.8" y="394.4" width="12.3" height="5.3" fill="#a8052e"/>
<text x="482" y="398.8" font-size="5.4" fill="#333" textLength="23.8" lengthAdjust="spacingAndGlyphs" stroke="#333" stroke-width="0.12">&gt;=10,000</text>
<rect x="0.5" y="0.5" width="519" height="412" fill="none" stroke="#000" stroke-width="1"/>
</svg>
</body></html>
